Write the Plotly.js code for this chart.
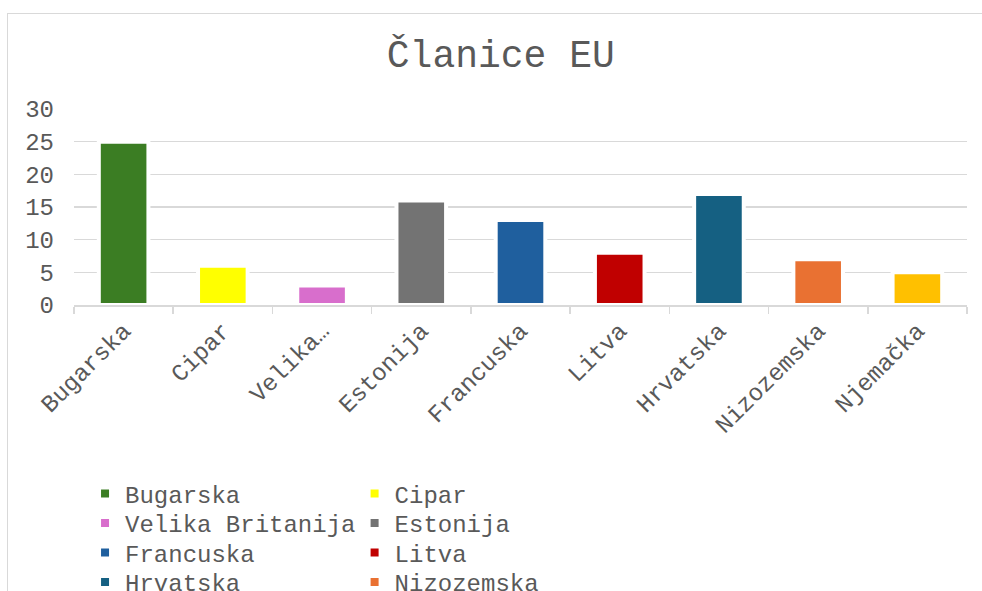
<!DOCTYPE html>
<html>
<head>
<meta charset="utf-8">
<script src="https://cdn.plot.ly/plotly-3.0.1.min.js"></script>
<style>
  html, body { margin: 0; padding: 0; background: #ffffff; overflow: hidden; }
  #wrap { position: relative; width: 982px; height: 591px; overflow: hidden; }
  #chart { position: absolute; left: 0; top: 0; width: 982px; height: 591px; }
  #frame { position: absolute; left: 7px; top: 13px; width: 1200px; height: 800px;
           border: 1.5px solid #d9d9d9; box-sizing: border-box; pointer-events: none; }
</style>
</head>
<body>
<div id="wrap">
  <div id="chart"></div>
  <div id="frame"></div>
</div>
<script>
// ---- data ----
const categories = ["Bugarska", "Cipar", "Velika Britanija", "Estonija", "Francuska",
                    "Litva", "Hrvatska", "Nizozemska", "Njemačka"];
const tickLabels = ["Bugarska", "Cipar", "Velika…", "Estonija", "Francuska",
                    "Litva", "Hrvatska", "Nizozemska", "Njemačka"];
const values = [25, 6, 3, 16, 13, 8, 17, 7, 5];
const colors = ["#3b7d23", "#ffff00", "#d86ecc", "#737373", "#1f5f9e",
                "#c00000", "#156082", "#e97132", "#ffc000"];
const yTicks = [0, 5, 10, 15, 20, 25, 30];

const FONT = '"Liberation Mono", "Courier New", monospace';
const GREY = '#595959';

// legend placement (container fractions): two columns, rows
const colX = [0.0866, 0.3611];
const rowY = [0.1641, 0.1142, 0.0643, 0.0144, 0.0];

const traces = categories.map((c, i) => ({
  type: 'bar',
  x: [c],
  y: [values[i]],
  name: c,
  width: 0.5,
  marker: { color: colors[i], line: { color: '#ffffff', width: 4 } },
  legend: i === 0 ? 'legend' : 'legend' + (i + 1),
  hoverinfo: 'x+y'
}));

const layout = {
  width: 982,
  height: 591,
  paper_bgcolor: 'rgba(0,0,0,0)',
  plot_bgcolor: 'rgba(0,0,0,0)',
  margin: { l: 74, r: 15, t: 109, b: 286, autoexpand: false },
  barmode: 'overlay',
  font: { family: FONT, color: GREY, size: 24 },
  title: {
    text: 'Članice EU',
    font: { family: FONT, size: 38, color: GREY },
    x: 0.51, xref: 'container', xanchor: 'center',
    y: 0.9086, yref: 'container', yanchor: 'middle'
  },
  xaxis: {
    type: 'category',
    categoryorder: 'array',
    categoryarray: categories,
    tickvals: categories,
    ticktext: tickLabels,
    tickangle: -45,
    tickson: 'boundaries',
    ticks: 'outside',
    ticklen: 7,
    tickwidth: 1.5,
    tickcolor: '#d9d9d9',
    showline: true,
    linecolor: '#d9d9d9',
    linewidth: 2,
    showgrid: false,
    zeroline: false,
    automargin: false,
    tickfont: { family: FONT, size: 24, color: GREY },
    range: [-0.5, 8.5]
  },
  yaxis: {
    range: [0, 30],
    tickvals: yTicks,
    ticktext: yTicks.map(String),
    showgrid: true,
    gridcolor: '#d9d9d9',
    gridwidth: 1.5,
    zeroline: false,
    showline: false,
    ticks: '',
    automargin: false,
    ticklabelstandoff: 19,
    tickfont: { family: FONT, size: 24, color: GREY }
  },
  showlegend: true
};

categories.forEach((c, i) => {
  const key = i === 0 ? 'legend' : 'legend' + (i + 1);
  const row = Math.floor(i / 2);
  layout[key] = {
    orientation: 'v',
    xref: 'container', x: colX[i % 2], xanchor: 'left',
    yref: 'container', y: rowY[row], yanchor: row === 4 ? 'top' : 'middle',
    bgcolor: 'rgba(0,0,0,0)',
    font: { family: FONT, size: 24, color: GREY },
    itemclick: false, itemdoubleclick: false
  };
});

Plotly.newPlot('chart', traces, layout, { displayModeBar: false, staticPlot: true });
</script>
</body>
</html>
